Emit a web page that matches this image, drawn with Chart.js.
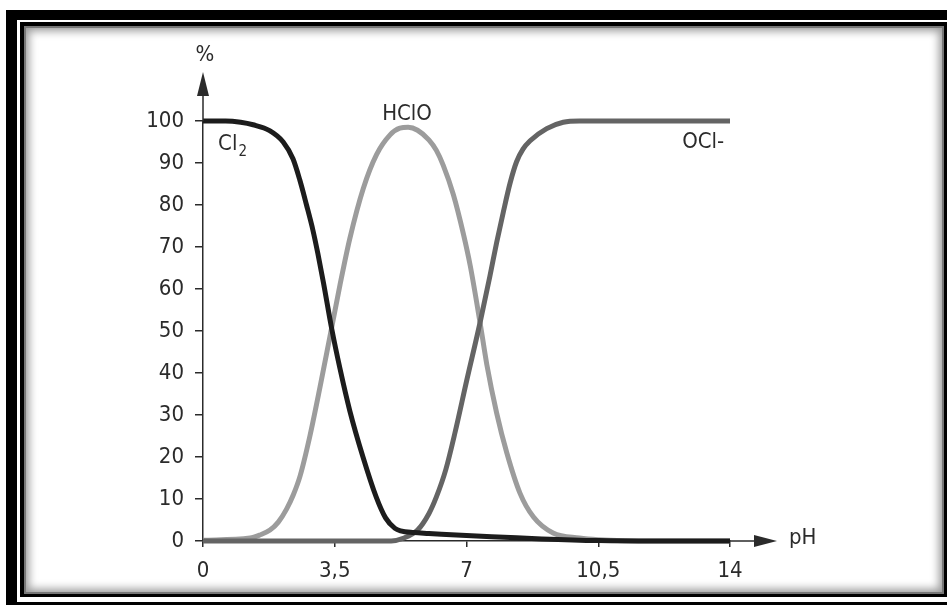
<!DOCTYPE html>
<html>
<head>
<meta charset="utf-8">
<script src="https://cdn.jsdelivr.net/npm/chart.js@4/dist/chart.umd.min.js"></script>
<style>
    html, body { margin: 0; padding: 0; background: #fff; }
    body { width: 947px; height: 605px; position: relative; overflow: hidden; }
    .outer { position: absolute; left: 6px; top: 10px; width: 960px; height: 582px;
        border-top: 10px solid #000; border-left: 11px solid #000; border-bottom: 3px solid #000; }
    .inner { position: absolute; left: 20px; top: 22px; width: 920px; height: 568px;
        border-top: 4px solid #000; border-left: 4px solid #000; border-right: 3px solid #000; border-bottom: 3px solid #000;
        box-shadow: inset 0 0 0 2px #777, inset 0 0 9px 5px #9a9a9a; background: #fff; }
    #wrap { position: absolute; left: 0; top: 0; width: 947px; height: 605px; }
</style>
</head>
<body>
<div class="outer"></div>
<div class="inner"></div>
<div id="wrap"><canvas id="chart"></canvas></div>
<script>
    // values (pH vs %)
    var cl2PH = [0, 0.6, 1.0, 1.33, 1.77, 2.13, 2.39, 2.57, 2.75, 2.92, 3.05, 3.2, 3.42, 3.64, 3.9, 4.25, 4.6, 4.85, 5.1, 5.25, 5.6, 6.0, 7.0, 8.0, 9.0, 10.5, 12, 14];
    var cl2Pct = [100, 100, 99.7, 99.1, 97.7, 95, 91, 86, 80, 74, 68.5, 61.5, 50.5, 41, 31, 20, 10.5, 5.5, 3.0, 2.4, 2.0, 1.8, 1.3, 0.9, 0.5, 0.1, 0, 0];

    var hcloPH = [0, 1.25, 1.5, 1.78, 2.0, 2.22, 2.4, 2.58, 2.84, 3.11, 3.37, 3.64, 3.9, 4.26, 4.61, 4.97, 5.23, 5.45, 5.7, 6.0, 6.2, 6.38, 6.65, 6.92, 7.1, 7.36, 7.54, 7.8, 8.07, 8.42, 8.78, 9.3, 10.0, 10.5, 12, 14];
    var hcloPct = [0.2, 0.7, 1.4, 2.6, 4.5, 7.6, 11, 15.5, 25, 36.7, 48.6, 61, 72, 84, 92, 96.7, 98.3, 98.5, 97.8, 95.5, 93, 89.5, 82.5, 73, 65.5, 52, 42, 30.5, 21, 11.4, 5.7, 1.9, 0.7, 0.3, 0, 0];

    var oclPH = [0, 5.0, 5.3, 5.7, 6.0, 6.2, 6.45, 6.7, 7.0, 7.36, 7.62, 7.8, 7.98, 8.16, 8.33, 8.5, 8.69, 9.13, 9.57, 10.0, 14];
    var oclPct = [0, 0, 0.6, 2.6, 6.5, 10.5, 17, 26, 38, 52, 63, 71, 78.4, 85.3, 90.3, 93.3, 95.3, 98.2, 99.7, 100, 100];

    var xTickLabels = ['0', '3,5', '7', '10,5', '14'];
    var yTicks = [0, 10, 20, 30, 40, 50, 60, 70, 80, 90, 100];

    var FONT = "'Liberation Sans Narrow', 'DejaVu Sans Condensed', 'Liberation Sans', sans-serif";
    var INK = '#2b2b2b';

    function pts(xs, ys) {
        var out = [];
        for (var i = 0; i < xs.length; ++i) {
            out.push({x: xs[i], y: ys[i]});
        }
        return out;
    }

    // arrows at the ends of the axes plus the curve names
    var decor = {
        id: 'decor',
        afterDraw: function (chart) {
            var ctx = chart.ctx;
            var xs = chart.scales.x, ys = chart.scales.y;
            var x0 = xs.getPixelForValue(0), y0 = ys.getPixelForValue(0);
            var top = chart.chartArea.top, right = chart.chartArea.right;
            ctx.save();
            ctx.strokeStyle = INK;
            ctx.fillStyle = INK;
            ctx.lineWidth = 1.5;

            ctx.beginPath();
            ctx.moveTo(x0, top);
            ctx.lineTo(x0, top - 28);
            ctx.moveTo(right, y0);
            ctx.lineTo(right + 26, y0);
            ctx.stroke();

            ctx.beginPath();
            ctx.moveTo(x0, top - 49);
            ctx.lineTo(x0 - 6, top - 25);
            ctx.lineTo(x0 + 6, top - 25);
            ctx.closePath();
            ctx.fill();

            ctx.beginPath();
            ctx.moveTo(right + 47, y0);
            ctx.lineTo(right + 24, y0 - 6);
            ctx.lineTo(right + 24, y0 + 6);
            ctx.closePath();
            ctx.fill();

            ctx.font = '22px ' + FONT;
            ctx.textBaseline = 'alphabetic';
            ctx.textAlign = 'center';
            ctx.fillText('%', x0 + 2, top - 60);
            ctx.textAlign = 'left';
            ctx.fillText('pH', right + 59, y0 + 3);

            ctx.fillText('Cl', xs.getPixelForValue(0.4), ys.getPixelForValue(93.1));
            var w = ctx.measureText('Cl').width;
            ctx.font = '15px ' + FONT;
            ctx.fillText('2', xs.getPixelForValue(0.4) + w + 1, ys.getPixelForValue(91.6));

            ctx.font = '22px ' + FONT;
            ctx.textAlign = 'center';
            ctx.fillText('HClO', xs.getPixelForValue(5.42), ys.getPixelForValue(100.2));
            ctx.textAlign = 'left';
            ctx.fillText('OCl-', xs.getPixelForValue(12.73), ys.getPixelForValue(93.6));
            ctx.restore();
        }
    };

    var lineStyle = {
        pointRadius: 0,
        pointHoverRadius: 0,
        borderWidth: 5,
        fill: false,
        cubicInterpolationMode: 'monotone',
        clip: false
    };

    new Chart(document.getElementById('chart'), {
        type: 'line',
        data: {
            datasets: [
                Object.assign({label: 'Cl2', data: pts(cl2PH, cl2Pct), borderColor: '#1c1c1c', order: 0}, lineStyle),
                Object.assign({label: 'OCl-', data: pts(oclPH, oclPct), borderColor: '#646464', order: 1}, lineStyle),
                Object.assign({label: 'HClO', data: pts(hcloPH, hcloPct), borderColor: '#9c9c9c', order: 2}, lineStyle)
            ]
        },
        options: {
            responsive: true,
            maintainAspectRatio: false,
            animation: false,
            events: [],
            layout: {padding: {left: 143, right: 217, top: 121, bottom: 24}},
            plugins: {legend: {display: false}, tooltip: {enabled: false}},
            scales: {
                x: {
                    type: 'linear',
                    min: 0,
                    max: 14,
                    afterBuildTicks: function (scale) {
                        scale.ticks = [0, 3.5, 7, 10.5, 14].map(function (v) { return {value: v}; });
                    },
                    afterFit: function (scale) { scale.height = 40; },
                    grid: {drawOnChartArea: false, drawTicks: true, tickLength: 6, color: INK, lineWidth: 1.5},
                    border: {color: INK, width: 1.5},
                    ticks: {
                        color: INK,
                        padding: 11,
                        maxRotation: 0,
                        font: {family: FONT, size: 22},
                        callback: function (v, i) { return xTickLabels[i]; }
                    }
                },
                y: {
                    min: 0,
                    max: 100,
                    afterBuildTicks: function (scale) {
                        scale.ticks = yTicks.map(function (v) { return {value: v}; });
                    },
                    afterFit: function (scale) { scale.width = 60; },
                    grid: {drawOnChartArea: false, drawTicks: true, tickLength: 8, color: INK, lineWidth: 1.5},
                    border: {color: INK, width: 1.5},
                    ticks: {
                        color: INK,
                        padding: 11,
                        font: {family: FONT, size: 22},
                        callback: function (v) { return String(v); }
                    }
                }
            }
        },
        plugins: [decor]
    });
</script>
</body>
</html>
